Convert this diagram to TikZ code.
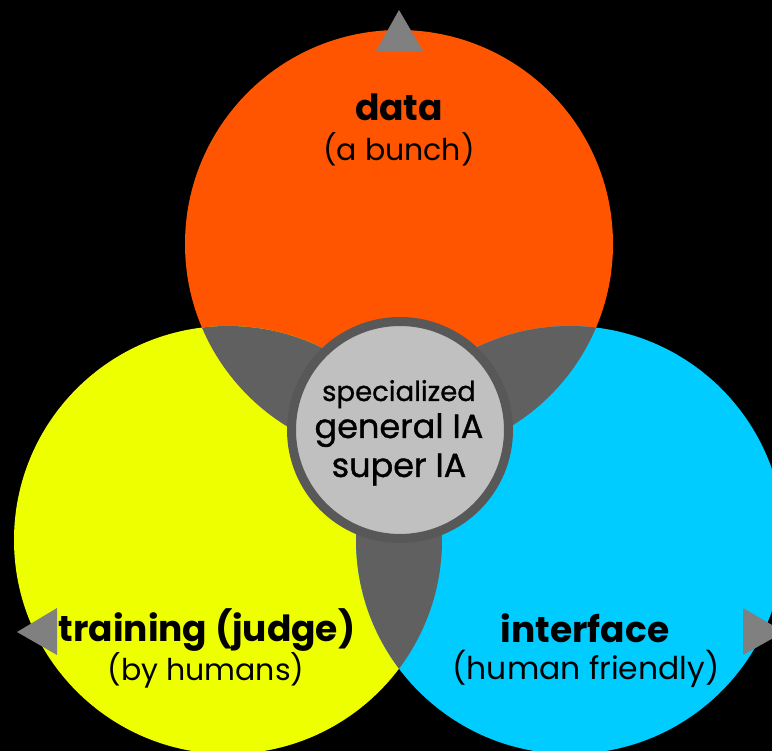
\documentclass[tikz,border=0pt]{standalone}
\usepackage{fontspec}
\setmainfont{Poppins}
\newfontfamily\medfont[FakeBold=1]{Poppins}
\definecolor{cOrange}{HTML}{FF5500}
\definecolor{cYellow}{HTML}{EEFF00}
\definecolor{cCyan}{HTML}{00CCFF}
\definecolor{cOverlap}{HTML}{606060}
\definecolor{cCore}{HTML}{C0C0C0}
\definecolor{cCoreRim}{HTML}{585858}
\definecolor{cTri}{HTML}{808080}
\begin{document}
\begin{tikzpicture}[x=1pt,y=-1pt,
  setcircle/.style={circle, minimum size=428pt, inner sep=0pt},
  tri/.style={fill=cTri},
  lbl/.style={anchor=base, inner sep=0pt, text=black},
  big/.style={font=\fontsize{36}{40}\selectfont\bfseries},
  small/.style={font=\fontsize{30}{34}\selectfont},
  core/.style={font=\medfont\fontsize{33.5}{38}\selectfont},
  coresmall/.style={font=\medfont\fontsize{27.5}{32}\selectfont}]
\fill[black] (0,0) rectangle (772,751);
\useasboundingbox (0,0) rectangle (772,751);
% sets
\node[setcircle, fill=cOrange] (data) at (399,244) {};
\node[setcircle, fill=cYellow] (train) at (228,540) {};
\node[setcircle, fill=cCyan] (iface) at (570,540) {};
% pairwise overlaps
\begin{scope}
  \clip (399,244) circle (214);
  \fill[cOverlap] (228,540) circle (214);
  \fill[cOverlap] (570,540) circle (214);
\end{scope}
\begin{scope}
  \clip (228,540) circle (214);
  \fill[cOverlap] (570,540) circle (214);
\end{scope}
% core
\node[circle, minimum size=217pt, inner sep=0pt, fill=cCore, draw=cCoreRim, line width=9pt] (core) at (400,430) {};
% triangles
\coordinate (t1) at (399,10);
\fill[tri] (t1) -- (376,51) -- (423,51) -- cycle;
\coordinate (t2) at (17,632);
\fill[tri] (t2) -- (57,608) -- (57,655) -- cycle;
\coordinate (t3) at (784,632);
\fill[tri] (t3) -- (743,608) -- (743,655) -- cycle;
% labels
\node[lbl, big] (dataT) at (399,121) {data};
\node[lbl, small] (dataS) at (399,161) {(a bunch)};
\node[lbl, big] (trainT) at (207,641) {training (judge)};
\node[lbl, small] (trainS) at (206,680) {(by humans)};
\node[lbl, big] (ifaceT) at (585,642) {interface};
\node[lbl, font=\fontsize{31.4}{35}\selectfont] (ifaceS) at (586,679) {(human friendly)};
\node[lbl, coresmall] (c1) at (399,401) {specialized};
\node[lbl, core] (c2) at (399,438) {general IA};
\node[lbl, core] (c3) at (399,477) {super IA};
\end{tikzpicture}
\end{document}
